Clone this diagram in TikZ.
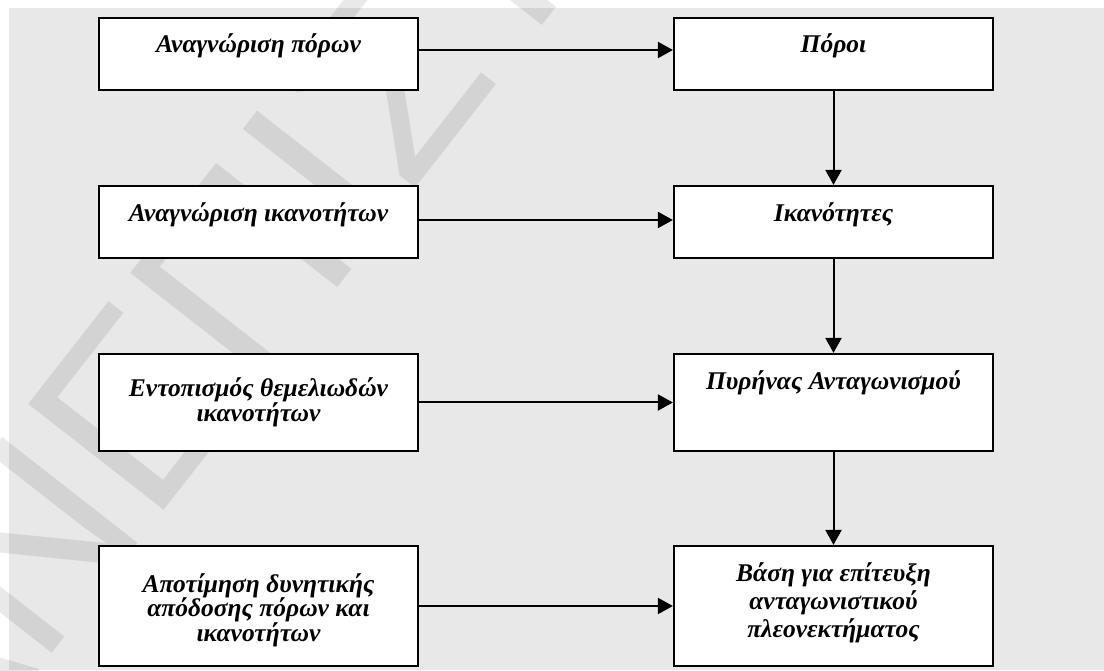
\documentclass[tikz,border=0pt]{standalone}
\usepackage{fontspec}
\setmainfont{Liberation Serif}
\newfontfamily\wmfont{Liberation Sans}
\usetikzlibrary{arrows.meta}
\definecolor{bgray}{HTML}{E8E8E8}
\begin{document}
\begin{tikzpicture}[x=1pt,y=1pt,
  box/.style={draw=black, line width=2.2pt, fill=white, minimum width=319pt, inner sep=0pt},
  lbl/.style={inner sep=0pt, align=center, font=\bfseries\itshape\fontsize{25.5}{25}\selectfont},
  lblwide/.style={lbl, font=\bfseries\itshape\fontsize{25.5}{27.5}\selectfont},
  link/.style={line width=2pt, -{Triangle[length=15pt,width=16pt]}},
  wm/.style={inner sep=0pt, text=black, text opacity=0.085, font=\wmfont\fontsize{250}{250}\selectfont}]
\useasboundingbox (0,0) rectangle (1104,670);
\fill[bgray] (9,0) rectangle (1104,662);
% faint diagonal watermark behind the chart
\begin{scope}
\clip (0,0) rectangle (1104,670);
\node[wm, rotate=52, anchor=base west] (mark) at (-174,-273) {ΠΑΝΕΠΙΣΤΗΜΙΟ};
\end{scope}
% boxes
\node[box, minimum height=72pt]  (l1) at (258.5,616) {};
\node[box, minimum height=72pt]  (r1) at (833.5,616) {};
\node[box, minimum height=72pt]  (l2) at (258.5,448) {};
\node[box, minimum height=72pt]  (r2) at (833.5,448) {};
\node[box, minimum height=97pt]  (l3) at (258.5,267.5) {};
\node[box, minimum height=97pt]  (r3) at (833.5,267.5) {};
\node[box, minimum height=120pt] (l4) at (258.5,64) {};
\node[box, minimum height=120pt] (r4) at (833.5,64) {};
% labels (anchored on the baseline of their last line)
\node[lbl, anchor=base] (l1t) at (258.5,617) {Αναγνώριση πόρων};
\node[lbl, anchor=base] (r1t) at (833.5,617) {Πόροι};
\node[lbl, anchor=base] (l2t) at (258.5,448) {Αναγνώριση ικανοτήτων};
\node[lbl, anchor=base] (r2t) at (833.5,448) {Ικανότητες};
\node[lbl, anchor=base] (r3t) at (833.5,280) {Πυρήνας Ανταγωνισμού};
\node[lbl, anchor=base] (l3t) at (258.5,248) {Εντοπισμός θεμελιωδών\\ικανοτήτων};
\node[lbl, anchor=base] (l4t) at (258.5,28) {Αποτίμηση δυνητικής\\απόδοσης πόρων και\\ικανοτήτων};
\node[lblwide, anchor=base] (r4t) at (833.5,33) {Βάση για επίτευξη\\ανταγωνιστικού\\πλεονεκτήματος};
% connectors
\draw[link] ([yshift=4pt]l1.east) -- ([yshift=4pt]r1.west);
\draw[link] ([yshift=2pt]l2.east) -- ([yshift=2pt]r2.west);
\draw[link] (l3.east) -- (r3.west);
\draw[link] (l4.east) -- (r4.west);
\draw[link] (r1.south) -- (r2.north);
\draw[link] (r2.south) -- (r3.north);
\draw[link] (r3.south) -- (r4.north);
\end{tikzpicture}
\end{document}
